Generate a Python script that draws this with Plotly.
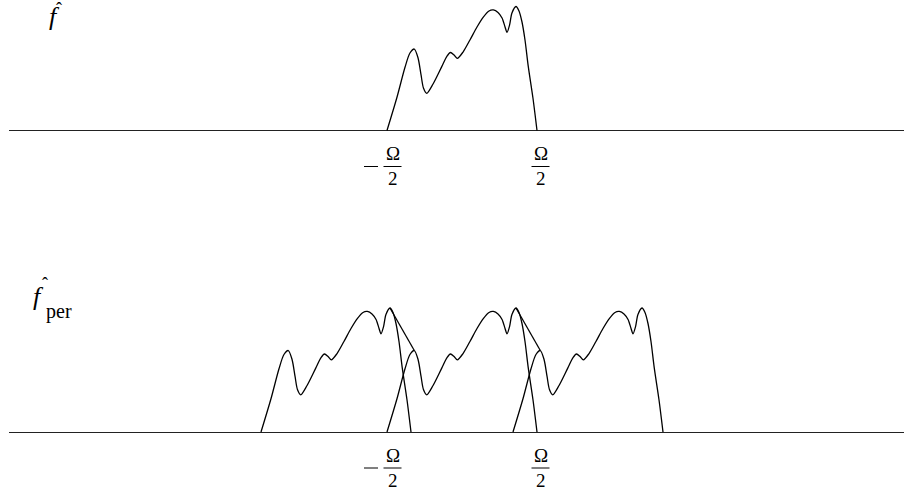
import plotly.graph_objects as go

# ---- data (frequency in units of Omega, amplitude normalised) ----
xi = [-0.5, -0.433, -0.38, -0.347, -0.318, -0.293, -0.273, -0.257, -0.235, -0.193,
      -0.135, -0.1, -0.077, -0.053, -0.031, 0.007, 0.053, 0.1, 0.142, 0.18,
      0.209, 0.24, 0.267, 0.287, 0.3, 0.317, 0.333, 0.36, 0.38, 0.4,
      0.42, 0.442, 0.473, 0.5]
fhat = [0.0, 0.27, 0.51, 0.625, 0.657, 0.585, 0.448, 0.343, 0.30, 0.375,
        0.515, 0.60, 0.629, 0.609, 0.582, 0.633, 0.73, 0.835, 0.915, 0.964,
        0.972, 0.952, 0.907, 0.835, 0.792, 0.85, 0.948, 1.0, 0.964, 0.875,
        0.73, 0.515, 0.262, 0.0]
shifts = [-0.84, 0.0, 0.84]
tick_vals = [-0.5, 0.5]
tick_neg = [True, False]

# ---- layout constants (pixels) ----
W, H = 904, 493
L = 9
PX_PER_UNIT = 150.0
x0_px = 387.0  # pixel of -Omega/2
xmin = -0.5 - (x0_px - L) / PX_PER_UNIT
xmax = xmin + (W - L) / PX_PER_UNIT
AMP = 124.0
top_axis_px, bot_axis_px = 130.5, 432.0
half = H / 2

yr_top = [-(half - top_axis_px) / AMP, top_axis_px / AMP]
yr_bot = [-(H - bot_axis_px) / AMP, (bot_axis_px - half) / AMP]

line_style = dict(color="black", width=1.3)
fig = go.Figure()

# top panel: f hat
fig.add_trace(go.Scatter(x=xi, y=fhat, mode="lines", line=dict(shape="spline", smoothing=0.8, **line_style),
                         xaxis="x", yaxis="y", showlegend=False, hoverinfo="skip"))

# bottom panel: periodised copies
peak_idx = fhat.index(max(fhat))
first_peak_idx = next(i for i in range(1, len(fhat) - 1) if fhat[i] > fhat[i - 1] and fhat[i] > fhat[i + 1])
for k, s in enumerate(shifts):
    fig.add_trace(go.Scatter(x=[v + s for v in xi], y=fhat, mode="lines",
                             line=dict(shape="spline", smoothing=0.8, **line_style),
                             xaxis="x2", yaxis="y2", showlegend=False, hoverinfo="skip"))
    if k + 1 < len(shifts):
        s2 = shifts[k + 1]
        fig.add_trace(go.Scatter(x=[xi[peak_idx] + s, xi[first_peak_idx] + s2],
                                 y=[fhat[peak_idx], fhat[first_peak_idx]], mode="lines",
                                 line=line_style, xaxis="x2", yaxis="y2",
                                 showlegend=False, hoverinfo="skip"))

axis_common = dict(showgrid=False, showticklabels=False, ticks="", showline=False)
fig.update_layout(
    width=W, height=H, margin=dict(l=L, r=0, t=0, b=0),
    paper_bgcolor="white", plot_bgcolor="white",
    xaxis=dict(range=[xmin, xmax], domain=[0, 1], anchor="y", zeroline=False, **axis_common),
    xaxis2=dict(range=[xmin, xmax], domain=[0, 1], anchor="y2", zeroline=False, **axis_common),
    yaxis=dict(range=yr_top, domain=[0.5, 1], anchor="x", zeroline=True, zerolinecolor="#222",
               zerolinewidth=1.3, **axis_common),
    yaxis2=dict(range=yr_bot, domain=[0, 0.5], anchor="x2", zeroline=True, zerolinecolor="#222",
                zerolinewidth=1.3, **axis_common),
)

serif = "Liberation Serif"
tfont = dict(family=serif, size=19, color="black")
ann = []
shapes = []
for xr, yr in [("x", "y"), ("x2", "y2")]:
    for tv, neg in zip(tick_vals, tick_neg):
        cx = 5.5 if neg else 3.5
        ann.append(dict(x=tv, y=0, xref=xr, yref=yr, text="Ω", showarrow=False,
                        xshift=cx, yshift=-23, font=tfont))
        ann.append(dict(x=tv, y=0, xref=xr, yref=yr, text="2", showarrow=False,
                        xshift=cx, yshift=-48, font=tfont))
        shapes.append(dict(type="line", xref=xr, yref=yr, xsizemode="pixel", ysizemode="pixel",
                           xanchor=tv, yanchor=0, x0=cx - 9, x1=cx + 9, y0=-36, y1=-36,
                           line=dict(color="black", width=1)))
        if neg:
            shapes.append(dict(type="line", xref=xr, yref=yr, xsizemode="pixel", ysizemode="pixel",
                               xanchor=tv, yanchor=0, x0=-23, x1=-9, y0=-36, y1=-36,
                               line=dict(color="black", width=1)))


def px(xp, yp):
    return dict(x=(xp - L) / (W - L), y=1 - yp / H, xref="paper", yref="paper", showarrow=False)


# panel labels
ffont = dict(family=serif, size=26, color="black")
hfont = dict(family=serif, size=18, color="black")
ann.append(dict(**px(46.5, 0), text="<i>f</i>", font=ffont))
ann.append(dict(**px(54, -3), text="ˆ", font=hfont))
ann.append(dict(**px(31, 296.5), text="<i>f</i>", font=ffont))
ann.append(dict(**px(40, 284), text="ˆ", font=hfont))
ann.append(dict(**px(44, 311), text="per", xanchor="left", font=dict(family=serif, size=20, color="black")))

fig.update_layout(annotations=ann, shapes=shapes)
fig.write_html("out.html", config={"displayModeBar": False},
               post_script="document.body.style.margin='0';document.body.style.overflow='hidden';")
